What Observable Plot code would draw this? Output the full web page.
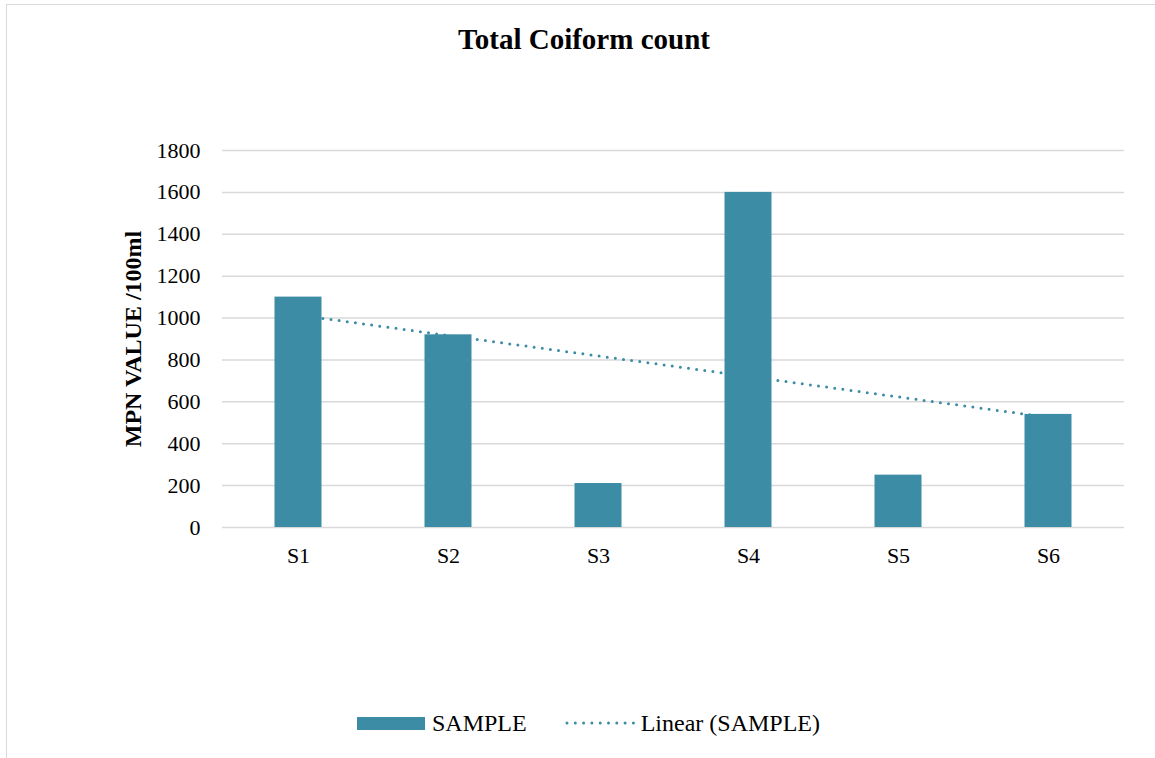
<!DOCTYPE html>
<html>
<head>
<meta charset="utf-8">
<script src="https://cdn.jsdelivr.net/npm/d3@7"></script>
<script src="https://cdn.jsdelivr.net/npm/@observablehq/plot@0.6"></script>
<style>
  html, body { margin: 0; padding: 0; background: #fff; }
  #wrap { position: relative; width: 1155px; height: 758px; overflow: hidden; font-family: "Liberation Serif", "Times New Roman", serif; }
  #frame { position: absolute; left: 6px; top: 4px; width: 1160px; height: 770px; border-top: 1.5px solid #d9d9d9; border-left: 1.5px solid #d9d9d9; box-sizing: border-box; }
  #title { position: absolute; left: 0; width: 1168px; top: 23px; text-align: center; font-weight: bold; font-size: 29px; line-height: 33px; color: #000; }
  #chart { position: absolute; left: 0; top: 0; }
  #legend { position: absolute; top: 709px; left: 357px; display: flex; align-items: center; font-size: 24px; line-height: 28px; color: #000; white-space: nowrap; }
  .sw { display: inline-block; width: 68px; height: 13px; background: #3d8ca5; margin-right: 7px; }
  .dl { display: inline-block; margin-left: 38px; margin-right: 5px; }
</style>
</head>
<body>
<div id="wrap">
  <div id="frame"></div>
  <div id="title">Total Coiform count</div>
  <div id="chart"></div>
  <div id="legend"><span class="sw"></span><span>SAMPLE</span><svg class="dl" width="71" height="10"><line x1="2" y1="5" x2="69" y2="5" stroke="#3d8ca5" stroke-width="3" stroke-linecap="round" stroke-dasharray="0,8.3"/></svg><span>Linear (SAMPLE)</span></div>
</div>
<script>
const sites = ["S1", "S2", "S3", "S4", "S5", "S6"];
const values = [1100, 920, 210, 1600, 250, 540];
const yTicks = [0, 200, 400, 600, 800, 1000, 1200, 1400, 1600, 1800];
const seriesName = "SAMPLE";
const yLabel = "MPN VALUE /100ml";

const data = sites.map((s, i) => ({site: s, value: values[i], idx: i + 1}));

// least-squares linear trend computed from the data
const mx = d3.mean(data, d => d.idx);
const my = d3.mean(data, d => d.value);
const slope = d3.sum(data, d => (d.idx - mx) * (d.value - my)) / d3.sum(data, d => (d.idx - mx) ** 2);
const trend = data.map(d => ({site: d.site, value: my + slope * (d.idx - mx)}));

const color = "#3d8ca5";

const chart = Plot.plot({
  width: 1155,
  height: 600,
  marginLeft: 222,
  marginRight: 31,
  marginTop: 150,
  marginBottom: 73,
  style: {fontFamily: "'Liberation Serif', 'Times New Roman', serif", fontSize: "22px", color: "#000", background: "transparent"},
  x: {domain: sites, padding: 0, label: null, tickSize: 0, tickPadding: 20},
  y: {domain: [0, 1800], ticks: yTicks, tickFormat: d => String(d), label: null, tickSize: 0, tickPadding: 22},
  marks: [
    Plot.gridY(yTicks, {stroke: "#d9d9d9", strokeOpacity: 1, strokeWidth: 1.5}),
    Plot.line(trend, {x: "site", y: "value", stroke: color, strokeWidth: 3, strokeLinecap: "round", strokeDasharray: "0,8.2"}),
    Plot.barY(data, {x: "site", y: "value", fill: color, insetLeft: 51.5, insetRight: 51.5}),
    Plot.text([yLabel], {frameAnchor: "left", dx: -89, rotate: -90, textAnchor: "middle", text: d => d, fontWeight: "bold", fontSize: 24, fill: "#000"})
  ]
});
document.getElementById("chart").appendChild(chart);
</script>
</body>
</html>
